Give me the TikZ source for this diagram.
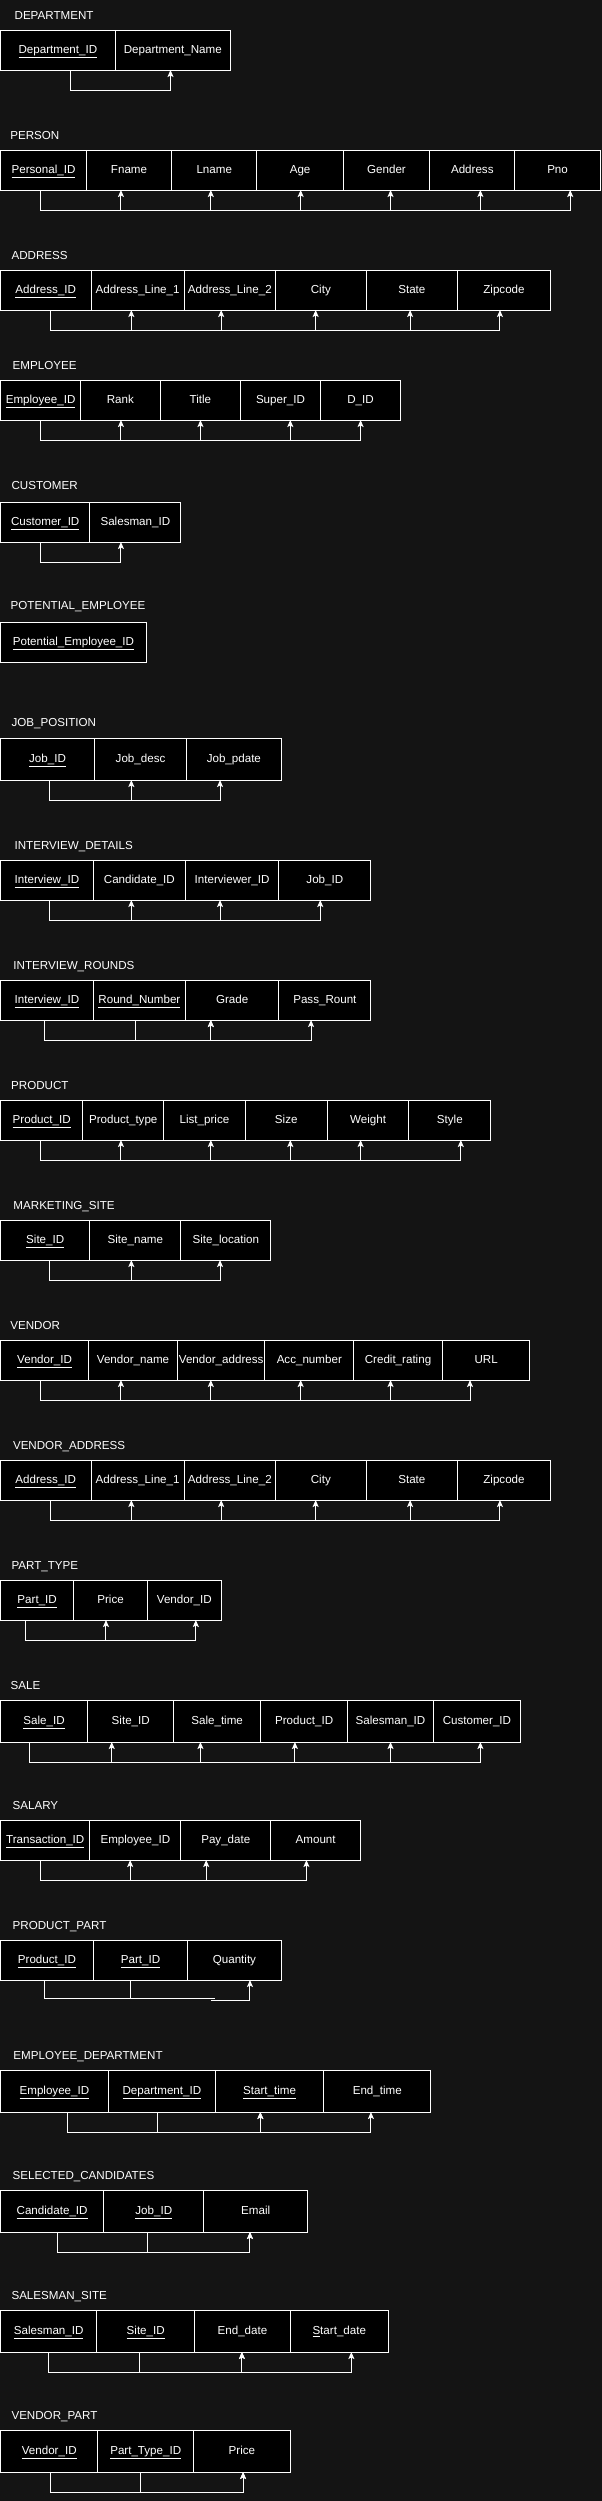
\documentclass[tikz,border=0pt]{standalone}
\usepackage{fontspec}
\setmainfont{Liberation Sans}
\usetikzlibrary{arrows.meta}
\definecolor{bgc}{HTML}{141414}
\tikzset{
  cellbox/.style={draw=white, fill=black, line width=1pt, inner sep=0pt, outer sep=0pt,
    text=white, font=\fontsize{11.6}{13}\selectfont, text height=8.3pt, text depth=1pt, anchor=north west},
  ttl/.style={text=white, inner sep=0pt, outer sep=0pt, anchor=west,
    font=\fontsize{11.6}{13}\selectfont, text height=8.3pt, text depth=0pt},
  wire/.style={draw=white, line width=1pt},
  conn/.style={wire, -{Stealth[length=7pt,width=6pt,inset=1.5pt]}},
}
\newcommand\ercell[6]{\node[cellbox, minimum width={(#3-#2)*1.152}, minimum height={#5-#4}] (#1) at (#2,-#4) {\makebox[0pt]{#6}};}
\newcommand\erlink[4]{\draw[conn] (#2,0 |- #1.south) -- ++(0,-20) -| (#4,0 |- #3.south);}
\newcommand\ul[1]{\underline{#1}}
\begin{document}
\begin{tikzpicture}[x=1.152pt,y=1pt]
\fill[bgc] (0pt,0pt) rectangle (602pt,-2501pt);
\useasboundingbox (0pt,0pt) rectangle (602pt,-2501pt);

% DEPARTMENT
\node[ttl] (tdep) at (12.7,-15) {DEPARTMENT};
\ercell{dep1}{0.5}{100}{30}{70}{\ul{Department\_ID}}
\ercell{dep2}{100}{200}{30}{70}{Department\_Name}
\erlink{dep1}{61}{dep2}{148}

% PERSON
\node[ttl] (tper) at (9,-135) {PERSON};
\ercell{per1}{0.5}{75}{150}{190}{\ul{Personal\_ID}}
\ercell{per2}{75}{149}{150}{190}{Fname}
\ercell{per3}{149}{223}{150}{190}{Lname}
\ercell{per4}{223}{298}{150}{190}{Age}
\ercell{per5}{298}{373}{150}{190}{Gender}
\ercell{per6}{373}{447}{150}{190}{Address}
\ercell{per7}{447}{521}{150}{190}{Pno}
\erlink{per1}{35}{per2}{105}
\erlink{per1}{35}{per3}{183}
\erlink{per1}{35}{per4}{261}
\erlink{per1}{35}{per5}{339}
\erlink{per1}{35}{per6}{417}
\erlink{per1}{35}{per7}{495}

% ADDRESS
\node[ttl] (tadr) at (10,-255) {ADDRESS};
\ercell{adr1}{0.5}{79}{270}{310}{\ul{Address\_ID}}
\ercell{adr2}{79}{160}{270}{310}{Address\_Line\_1}
\ercell{adr3}{160}{239}{270}{310}{Address\_Line\_2}
\ercell{adr4}{239}{318}{270}{310}{City}
\ercell{adr5}{318}{397}{270}{310}{State}
\ercell{adr6}{397}{478}{270}{310}{Zipcode}
\erlink{adr1}{44}{adr2}{114}
\erlink{adr1}{44}{adr3}{192}
\erlink{adr1}{44}{adr4}{274}
\erlink{adr1}{44}{adr5}{356}
\erlink{adr1}{44}{adr6}{434}

% EMPLOYEE
\node[ttl] (temp) at (11,-365) {EMPLOYEE};
\ercell{emp1}{0.5}{70}{380}{420}{\ul{Employee\_ID}}
\ercell{emp2}{70}{139}{380}{420}{Rank}
\ercell{emp3}{139}{209}{380}{420}{Title}
\ercell{emp4}{209}{278}{380}{420}{Super\_ID}
\ercell{emp5}{278}{348}{380}{420}{D\_ID}
\erlink{emp1}{35}{emp2}{105}
\erlink{emp1}{35}{emp3}{174}
\erlink{emp1}{35}{emp4}{252}
\erlink{emp1}{35}{emp5}{313}

% CUSTOMER
\node[ttl] (tcus) at (10,-485) {CUSTOMER};
\ercell{cus1}{0.5}{78}{502}{542}{\ul{Customer\_ID}}
\ercell{cus2}{78}{157}{502}{542}{Salesman\_ID}
\erlink{cus1}{35}{cus2}{105}

% POTENTIAL_EMPLOYEE
\node[ttl] (tpot) at (9.3,-605) {POTENTIAL\_EMPLOYEE};
\ercell{pot1}{0.5}{127}{622}{662}{\ul{Potential\_Employee\_ID}}

% JOB_POSITION
\node[ttl] (tjob) at (10,-722) {JOB\_POSITION};
\ercell{job1}{0.5}{82}{738}{780}{\ul{Job\_ID}}
\ercell{job2}{82}{162}{738}{780}{Job\_desc}
\ercell{job3}{162}{244}{738}{780}{Job\_pdate}
\erlink{job1}{43}{job2}{114}
\erlink{job1}{43}{job3}{191}

% INTERVIEW_DETAILS
\node[ttl] (tind) at (12.7,-845) {INTERVIEW\_DETAILS};
\ercell{ind1}{0.5}{81}{860}{900}{\ul{Interview\_ID}}
\ercell{ind2}{81}{161}{860}{900}{Candidate\_ID}
\ercell{ind3}{161}{242}{860}{900}{Interviewer\_ID}
\ercell{ind4}{242}{322}{860}{900}{Job\_ID}
\erlink{ind1}{43}{ind2}{114}
\erlink{ind1}{43}{ind3}{191}
\erlink{ind1}{43}{ind4}{278}

% INTERVIEW_ROUNDS
\node[ttl] (tinr) at (11.7,-965) {INTERVIEW\_ROUNDS};
\ercell{inr1}{0.5}{81}{980}{1020}{\ul{Interview\_ID}}
\ercell{inr2}{81}{161}{980}{1020}{\ul{Round\_Number}}
\ercell{inr3}{161}{242}{980}{1020}{Grade}
\ercell{inr4}{242}{322}{980}{1020}{Pass\_Rount}
\erlink{inr1}{39}{inr3}{183}
\erlink{inr1}{39}{inr4}{270}
\erlink{inr2}{118}{inr3}{183}

% PRODUCT
\node[ttl] (tpro) at (9.7,-1085) {PRODUCT};
\ercell{pro1}{0.5}{72}{1100}{1140}{\ul{Product\_ID}}
\ercell{pro2}{72}{142}{1100}{1140}{Product\_type}
\ercell{pro3}{142}{213}{1100}{1140}{List\_price}
\ercell{pro4}{213}{284}{1100}{1140}{Size}
\ercell{pro5}{284}{355}{1100}{1140}{Weight}
\ercell{pro6}{355}{426}{1100}{1140}{Style}
\erlink{pro1}{35}{pro2}{105}
\erlink{pro1}{35}{pro3}{183}
\erlink{pro1}{35}{pro4}{252}
\erlink{pro1}{35}{pro5}{313}
\erlink{pro1}{35}{pro6}{400}

% MARKETING_SITE
\node[ttl] (tmks) at (11.7,-1205) {MARKETING\_SITE};
\ercell{mks1}{0.5}{78}{1220}{1260}{\ul{Site\_ID}}
\ercell{mks2}{78}{157}{1220}{1260}{Site\_name}
\ercell{mks3}{157}{235}{1220}{1260}{Site\_location}
\erlink{mks1}{43}{mks2}{114}
\erlink{mks1}{43}{mks3}{191}

% VENDOR
\node[ttl] (tven) at (9,-1325) {VENDOR};
\ercell{ven1}{0.5}{77}{1340}{1380}{\ul{Vendor\_ID}}
\ercell{ven2}{77}{154}{1340}{1380}{Vendor\_name}
\ercell{ven3}{154}{230}{1340}{1380}{Vendor\_address}
\ercell{ven4}{230}{307}{1340}{1380}{Acc\_number}
\ercell{ven5}{307}{384}{1340}{1380}{Credit\_rating}
\ercell{ven6}{384}{460}{1340}{1380}{URL}
\erlink{ven1}{35}{ven2}{105}
\erlink{ven1}{35}{ven3}{183}
\erlink{ven1}{35}{ven4}{261}
\erlink{ven1}{35}{ven5}{339}
\erlink{ven1}{35}{ven6}{408}

% VENDOR_ADDRESS
\node[ttl] (tvad) at (11.3,-1445) {VENDOR\_ADDRESS};
\ercell{vad1}{0.5}{79}{1460}{1500}{\ul{Address\_ID}}
\ercell{vad2}{79}{160}{1460}{1500}{Address\_Line\_1}
\ercell{vad3}{160}{239}{1460}{1500}{Address\_Line\_2}
\ercell{vad4}{239}{318}{1460}{1500}{City}
\ercell{vad5}{318}{397}{1460}{1500}{State}
\ercell{vad6}{397}{478}{1460}{1500}{Zipcode}
\erlink{vad1}{44}{vad2}{114}
\erlink{vad1}{44}{vad3}{192}
\erlink{vad1}{44}{vad4}{274}
\erlink{vad1}{44}{vad5}{356}
\erlink{vad1}{44}{vad6}{434}

% PART_TYPE
\node[ttl] (tpty) at (10,-1565) {PART\_TYPE};
\ercell{pty1}{0.5}{64}{1580}{1620}{\ul{Part\_ID}}
\ercell{pty2}{64}{128}{1580}{1620}{Price}
\ercell{pty3}{128}{192}{1580}{1620}{Vendor\_ID}
\erlink{pty1}{22}{pty2}{92}
\erlink{pty1}{22}{pty3}{170}

% SALE
\node[ttl] (tsal) at (9.3,-1685) {SALE};
\ercell{sal1}{0.5}{76}{1700}{1742}{\ul{Sale\_ID}}
\ercell{sal2}{76}{151}{1700}{1742}{Site\_ID}
\ercell{sal3}{151}{226}{1700}{1742}{Sale\_time}
\ercell{sal4}{226}{302}{1700}{1742}{Product\_ID}
\ercell{sal5}{302}{376}{1700}{1742}{Salesman\_ID}
\ercell{sal6}{376}{452}{1700}{1742}{Customer\_ID}
\erlink{sal1}{26}{sal2}{97}
\erlink{sal1}{26}{sal3}{174}
\erlink{sal1}{26}{sal4}{256}
\erlink{sal1}{26}{sal5}{339}
\erlink{sal1}{26}{sal6}{417}

% SALARY
\node[ttl] (tsly) at (11,-1805) {SALARY};
\ercell{sly1}{0.5}{78}{1820}{1860}{\ul{Transaction\_ID}}
\ercell{sly2}{78}{157}{1820}{1860}{Employee\_ID}
\ercell{sly3}{157}{235}{1820}{1860}{Pay\_date}
\ercell{sly4}{235}{313}{1820}{1860}{Amount}
\erlink{sly1}{35}{sly2}{113}
\erlink{sly1}{35}{sly3}{179}
\erlink{sly1}{35}{sly4}{266}

% PRODUCT_PART
\node[ttl] (tpp) at (11,-1925) {PRODUCT\_PART};
\ercell{pp1}{0.5}{81}{1940}{1980}{\ul{Product\_ID}}
\ercell{pp2}{81}{163}{1940}{1980}{\ul{Part\_ID}}
\ercell{pp3}{163}{244}{1940}{1980}{Quantity}
\draw[wire] (39,0 |- pp1.south) -- ++(0,-18) -- ++(148,0);
\draw[wire] (113,0 |- pp2.south) -- ++(0,-18);
\draw[conn] (183,0 |- pp1.south) ++(0,-20) -| (217,0 |- pp3.south);

% EMPLOYEE_DEPARTMENT
\node[ttl] (ted) at (11.7,-2055) {EMPLOYEE\_DEPARTMENT};
\ercell{ed1}{0.5}{94}{2070}{2112}{\ul{Employee\_ID}}
\ercell{ed2}{94}{187}{2070}{2112}{\ul{Department\_ID}}
\ercell{ed3}{187}{281}{2070}{2112}{\ul{Start\_time}}
\ercell{ed4}{281}{374}{2070}{2112}{End\_time}
\erlink{ed1}{59}{ed3}{226}
\erlink{ed1}{59}{ed4}{322}
\erlink{ed2}{137}{ed3}{226}

% SELECTED_CANDIDATES
\node[ttl] (tsc) at (11,-2175) {SELECTED\_CANDIDATES};
\ercell{sc1}{0.5}{90}{2190}{2232}{\ul{Candidate\_ID}}
\ercell{sc2}{90}{177}{2190}{2232}{\ul{Job\_ID}}
\ercell{sc3}{177}{267}{2190}{2232}{Email}
\erlink{sc1}{50}{sc3}{217}
\erlink{sc2}{128}{sc3}{217}

% SALESMAN_SITE
\node[ttl] (tss) at (10,-2295) {SALESMAN\_SITE};
\ercell{ss1}{0.5}{84}{2310}{2352}{\ul{Salesman\_ID}}
\ercell{ss2}{84}{169}{2310}{2352}{\ul{Site\_ID}}
\ercell{ss3}{169}{252}{2310}{2352}{End\_date}
\ercell{ss4}{252}{337}{2310}{2352}{\ul{S}tart\_date}
\erlink{ss1}{42}{ss3}{210}
\erlink{ss1}{42}{ss4}{305}
\erlink{ss2}{121}{ss3}{210}

% VENDOR_PART
\node[ttl] (tvp) at (10,-2415) {VENDOR\_PART};
\ercell{vp1}{0.5}{85}{2430}{2472}{\ul{Vendor\_ID}}
\ercell{vp2}{85}{168}{2430}{2472}{\ul{Part\_Type\_ID}}
\ercell{vp3}{168}{252}{2430}{2472}{Price}
\erlink{vp1}{44}{vp3}{211}
\erlink{vp2}{122}{vp3}{211}
\end{tikzpicture}
\end{document}
